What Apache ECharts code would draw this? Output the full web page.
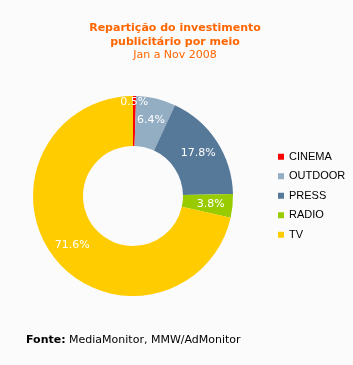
<!DOCTYPE html>
<html>
<head>
    <meta charset="utf-8"/>
    <title>ECharts</title>
    <script src="https://cdn.jsdelivr.net/npm/echarts@6/dist/echarts.min.js"></script>
    <style>
        html, body { margin: 0; padding: 0; background: #fbfbfb; }
    </style>
</head>
<body>
<div id="main" style="width: 353px;height:365px;"></div>
<script type="text/javascript">
    // dados
    var categories = ['CINEMA', 'OUTDOOR', 'PRESS', 'RADIO', 'TV'];
    var values = [0.5, 6.4, 17.8, 3.8, 71.6];
    var colors = ['#ff0000', '#93adc3', '#56799a', '#99cc00', '#ffcc00'];

    var myChart = echarts.init(document.getElementById('main'));

    var pieData = categories.map(function (name, i) {
        return {name: name, value: values[i], itemStyle: {color: colors[i]}};
    });

    var option = {
        backgroundColor: '#fbfbfb',
        animation: false,
        title: {
            text: 'Repartição do investimento\npublicitário por meio',
            subtext: 'Jan a Nov 2008',
            left: 170,
            top: 16,
            textAlign: 'center',
            itemGap: 1,
            textStyle: {
                fontFamily: 'DejaVu Sans',
                fontSize: 11,
                fontWeight: 'bold',
                color: '#ff6600',
                lineHeight: 14
            },
            subtextStyle: {
                fontFamily: 'DejaVu Sans',
                fontSize: 11,
                color: '#ff6600'
            }
        },
        legend: {
            orient: 'vertical',
            left: 273,
            top: 145,
            itemWidth: 6,
            itemHeight: 6,
            itemGap: 6,
            icon: 'rect',
            textStyle: {
                fontFamily: 'Liberation Sans',
                fontSize: 11,
                color: '#000',
                lineHeight: 13.5
            },
            data: categories
        },
        series: [{
            type: 'pie',
            center: [133, 196],
            radius: [50, 100],
            startAngle: 90,
            clockwise: true,
            label: {
                position: 'inside',
                color: '#fff',
                fontFamily: 'DejaVu Sans',
                fontSize: 11,
                formatter: function (p) {
                    return p.value.toFixed(1) + '%';
                }
            },
            labelLayout: function (params) {
                if (params.dataIndex === 0) {
                    return {dy: -16};
                }
            },
            labelLine: {show: false},
            emphasis: {disabled: true},
            data: pieData
        }],
        graphic: [{
            type: 'text',
            left: 26,
            top: 335,
            style: {
                text: '{b|Fonte:} MediaMonitor, MMW/AdMonitor',
                rich: {
                    b: {fontFamily: 'DejaVu Sans', fontSize: 11, fontWeight: 'bold', fill: '#000'}
                },
                fontFamily: 'DejaVu Sans',
                fontSize: 11,
                fill: '#000'
            }
        }]
    };

    myChart.setOption(option);
</script>
</body>
</html>
